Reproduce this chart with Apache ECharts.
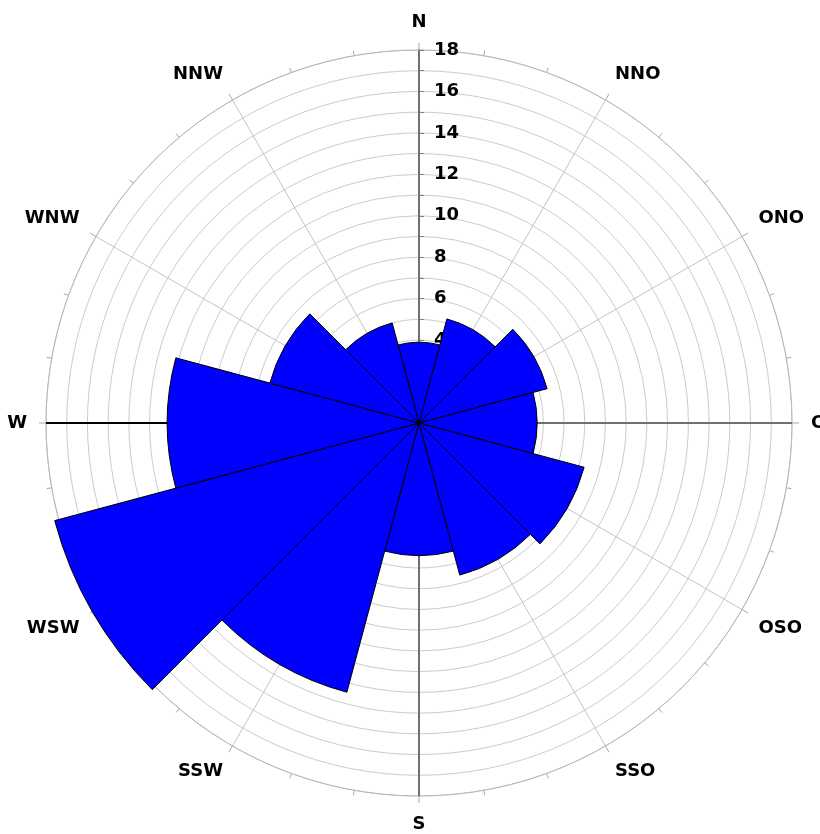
<!DOCTYPE html>
<html>
<head>
<meta charset="utf-8">
<script src="https://cdn.jsdelivr.net/npm/echarts@6/dist/echarts.min.js"></script>
<style>
  html, body { margin: 0; padding: 0; background: #ffffff; }
  #chart { width: 820px; height: 834px; }
</style>
</head>
<body>
<div id="chart"></div>
<script>
// Wind directions (sectors of 30 degrees, German abbreviations)
const directions = ['N', 'NNO', 'ONO', 'O', 'OSO', 'SSO', 'S', 'SSW', 'WSW', 'W', 'WNW', 'NNW'];
// Frequency per direction
const frequency = [3.9, 5.2, 6.4, 5.7, 8.25, 7.6, 6.4, 13.45, 18.2, 12.15, 7.45, 5.0];
// Radial scale
const radiusMax = 18;
const radiusStep = 1;
const radiusLabelStep = 2;
// Compass bearings of the highlighted axis lines
const grayAxisBearings = [90, 180];
const blackAxisBearings = [270];

const chart = echarts.init(document.getElementById('chart'), null, { renderer: 'canvas' });

const center = [419, 423];
const radius = 373;
const labelFont = { fontFamily: 'DejaVu Sans', fontWeight: 'bold', fontSize: 18, color: '#000' };

function axisLineSeries(bearing, color, width) {
  return {
    type: 'line',
    coordinateSystem: 'polar',
    polarIndex: 1,
    data: [[0, bearing], [radiusMax, bearing]],
    symbol: 'none',
    silent: true,
    z: 1,
    lineStyle: { color: color, width: width },
    animation: false
  };
}

const series = [];
grayAxisBearings.forEach(b => series.push(axisLineSeries(b, '#707070', 2)));
blackAxisBearings.forEach(b => series.push(axisLineSeries(b, '#000000', 2)));
series.push({
  type: 'bar',
  coordinateSystem: 'polar',
  polarIndex: 0,
  data: frequency,
  barCategoryGap: '0%',
  clip: false,
  z: 5,
  itemStyle: { color: '#0000ff', borderColor: '#000000', borderWidth: 1 },
  animation: false
});

chart.setOption({
  backgroundColor: '#ffffff',
  animation: false,
  polar: [
    { center: center, radius: radius },
    { center: center, radius: radius }
  ],
  angleAxis: [
    {
      polarIndex: 0,
      type: 'category',
      data: directions,
      startAngle: 90 + 15,
      clockwise: true,
      show: false
    },
    {
      polarIndex: 1,
      type: 'value',
      min: 0,
      max: 360,
      interval: 30,
      startAngle: 90,
      clockwise: true,
      z: 0,
      axisLine: { show: true, lineStyle: { color: '#b8b8b8', width: 1 } },
      axisTick: { show: true, length: 7, lineStyle: { color: '#a8a8a8' } },
      minorTick: { show: true, splitNumber: 3, length: 5, lineStyle: { color: '#a8a8a8' } },
      splitLine: { show: true, lineStyle: { color: '#c4c4c4', width: 1 } },
      axisLabel: Object.assign({
        margin: 19,
        formatter: v => (v % 30 === 0 && v < 360) ? directions[v / 30] : ''
      }, labelFont)
    }
  ],
  radiusAxis: [
    { polarIndex: 0, type: 'value', min: 0, max: radiusMax, show: false },
    {
      polarIndex: 1,
      type: 'value',
      min: 0,
      max: radiusMax,
      interval: radiusStep,
      z: 0,
      axisLine: { show: true, lineStyle: { color: '#707070', width: 2 } },
      axisTick: { show: true, length: -5, lineStyle: { color: '#808080' } },
      splitLine: { show: true, lineStyle: { color: '#cccccc', width: 1 } },
      axisLabel: Object.assign({
        margin: -15,
        align: 'left',
        verticalAlign: 'middle',
        formatter: v => (v > 0 && v % radiusLabelStep === 0) ? String(v) : ''
      }, labelFont)
    }
  ],
  series: series
});
</script>
</body>
</html>
